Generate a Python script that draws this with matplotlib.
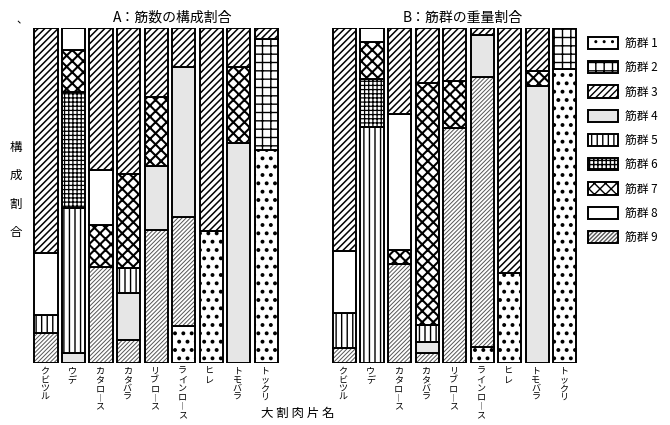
import matplotlib
matplotlib.use("Agg")
import matplotlib.pyplot as plt
from matplotlib.patches import Patch
from matplotlib.transforms import blended_transform_factory

plt.rcParams['font.family'] = ['Noto Sans CJK JP', 'DejaVu Sans']

cuts = ['クビツル', 'ウデ', 'カタロース', 'カタバラ', 'リブロース',
        'ラインロース', 'ヒレ', 'トモバラ', 'トックリ']
group_labels = ['筋群 1', '筋群 2', '筋群 3', '筋群 4', '筋群 5',
                '筋群 6', '筋群 7', '筋群 8', '筋群 9']

# A: 筋数の構成割合 (%), one list per muscle group, values in cut order
count_g1 = [0, 0, 0, 0, 0, 11.0, 39.4, 0, 63.6]
count_g2 = [0, 0, 0, 0, 0, 0, 0, 0, 33.1]
count_g3 = [67.1, 0, 42.4, 43.5, 20.6, 11.7, 60.6, 11.6, 3.3]
count_g4 = [0, 3.0, 0, 14.0, 19.1, 44.8, 0, 65.7, 0]
count_g5 = [5.4, 43.3, 0, 7.5, 0, 0, 0, 0, 0]
count_g6 = [0, 34.6, 0, 0, 0, 0, 0, 0, 0]
count_g7 = [0, 12.5, 12.5, 28.1, 20.6, 0, 0, 22.7, 0]
count_g8 = [18.5, 6.6, 16.4, 0, 0, 0, 0, 0, 0]
count_g9 = [9.0, 0, 28.7, 6.9, 39.7, 32.5, 0, 0, 0]

# B: 筋群の重量割合 (%)
weight_g1 = [0, 0, 0, 0, 0, 4.8, 26.9, 0, 87.8]
weight_g2 = [0, 0, 0, 0, 0, 0, 0, 0, 12.2]
weight_g3 = [66.6, 0, 25.6, 16.4, 15.9, 2.1, 73.1, 12.8, 0]
weight_g4 = [0, 0, 0, 3.3, 0, 12.5, 0, 82.7, 0]
weight_g5 = [10.4, 70.4, 0, 5.1, 0, 0, 0, 0, 0]
weight_g6 = [0, 14.3, 0, 0, 0, 0, 0, 0, 0]
weight_g7 = [0, 11.0, 4.2, 72.2, 14.0, 0, 0, 4.5, 0]
weight_g8 = [18.5, 4.3, 40.6, 0, 0, 0, 0, 0, 0]
weight_g9 = [4.5, 0, 29.6, 3.0, 70.1, 80.6, 0, 0, 0]

count_data = [count_g1, count_g2, count_g3, count_g4, count_g5,
              count_g6, count_g7, count_g8, count_g9]
weight_data = [weight_g1, weight_g2, weight_g3, weight_g4, weight_g5,
               weight_g6, weight_g7, weight_g8, weight_g9]

# stacking order from the bottom (group numbers)
stack_order = [1, 9, 4, 5, 6, 7, 8, 2, 3]

# facecolor, hatch, hatch colour, hatch linewidth
styles = {
    1: ('white', '..', 'black', 1.6),
    2: ('white', '++', 'black', 1.0),
    3: ('white', '/////', 'black', 1.1),
    4: ('#e6e6e6', '', 'black', 0.5),
    5: ('white', '|||', 'black', 1.0),
    6: ('white', '++++', 'black', 0.9),
    7: ('white', 'xxx', 'black', 1.5),
    8: ('white', '', 'black', 0.5),
    9: ('white', '////////', '#555555', 0.7),
}


def vertical(name):
    return '\n'.join(name.replace('ー', '︱'))


def draw_panel(ax, data):
    x = list(range(len(cuts)))
    bottom = [0.0] * len(cuts)
    for g in stack_order:
        vals = data[g - 1]
        face, hatch, hcol, hlw = styles[g]
        with plt.rc_context({'hatch.linewidth': hlw}):
            ax.bar(x, vals, 0.84, bottom=bottom, color=face,
                   edgecolor=hcol, hatch=hatch, linewidth=0)
        ax.bar(x, vals, 0.84, bottom=bottom, fill=False,
               edgecolor='black', linewidth=1.4)
        bottom = [b + v for b, v in zip(bottom, vals)]
    ax.set_xlim(-0.5, len(cuts) - 0.5)
    ax.set_ylim(0, 100)
    ax.axis('off')
    trans = blended_transform_factory(ax.transData, ax.transAxes)
    for i, name in enumerate(cuts):
        ax.text(i - 0.05, -0.012, vertical(name), transform=trans,
                ha='center', va='top', fontsize=6.5, linespacing=0.95,
                clip_on=False)


fig = plt.figure(figsize=(6.7, 4.25), dpi=100)
fig.patch.set_facecolor('white')

ax_a = fig.add_axes([0.048, 0.146, 0.370, 0.788])
ax_b = fig.add_axes([0.4936, 0.146, 0.370, 0.788])
draw_panel(ax_a, count_data)
draw_panel(ax_b, weight_data)

fig.text(0.257, 0.958, 'A：筋数の構成割合', ha='center', va='center', fontsize=10)
fig.text(0.690, 0.958, 'B：筋群の重量割合', ha='center', va='center', fontsize=10)
fig.text(0.033, 0.953, '、', ha='center', va='center', fontsize=8)

for k, ch in enumerate('構成割合'):
    fig.text(0.023, 1 - (147 + 28.5 * k) / 425, ch, ha='center', va='center',
             fontsize=9)

fig.text(0.445, 0.028, '大 割 肉 片 名', ha='center', va='center', fontsize=9)

handles = []
for g in range(1, 10):
    face, hatch, hcol, hlw = styles[g]
    with plt.rc_context({'hatch.linewidth': hlw}):
        fill_patch = Patch(facecolor=face, edgecolor=hcol, hatch=hatch, linewidth=0)
    outline = Patch(fill=False, edgecolor='black', linewidth=1.4)
    handles.append((fill_patch, outline))

fig.legend(handles, group_labels, loc='upper left', bbox_to_anchor=(0.8776, 0.913),
           frameon=False, fontsize=8.5, handlelength=2.5, handleheight=1.2,
           labelspacing=0.95, handletextpad=0.65, borderpad=0, borderaxespad=0)

fig.savefig('out.png', dpi=100)
